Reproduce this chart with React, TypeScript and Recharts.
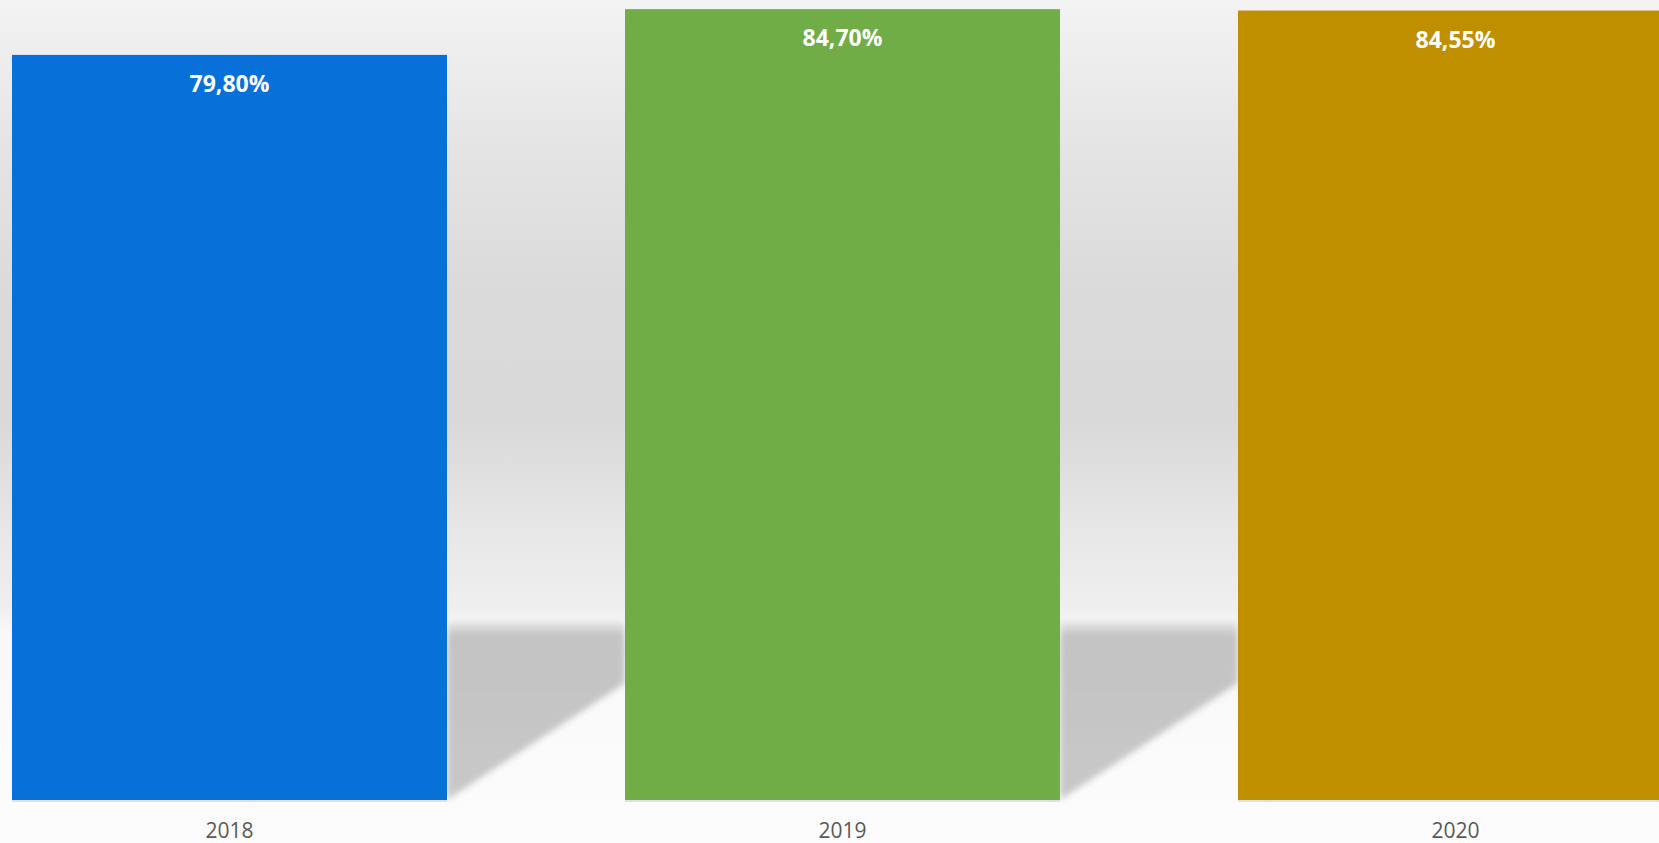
import React from 'react'
import { BarChart, Bar, XAxis, YAxis, LabelList, Cell } from 'recharts'

// data
const YEARS = ['2018', '2019', '2020']
const RATES = [79.8, 84.7, 84.55]
const COLORS = ['#0770D9', '#70AD47', '#BF8F00']

const rows = YEARS.map((year, i) => ({ year, rate: RATES[i] }))

const fmtPct = (v: number) => `${v.toFixed(2).replace('.', ',')}%`

// bar + the floor shadow it casts to the right
function ShadowBar(props: any) {
  const { x, y, width, height, fill, index } = props
  const bottom = y + height
  const x0 = x + width
  const x1 = x0 + width * (178 / 435)
  const top = bottom - 178
  const diag = bottom - 117
  return (
    <g>
      <defs>
        <filter id={`blur-${index}`} x="-10%" y="-10%" width="120%" height="120%">
          <feGaussianBlur stdDeviation="3" />
        </filter>
        <linearGradient id={`shade-${index}`} x1="0" y1="0" x2="0" y2="1">
          <stop offset="0%" stopColor="#e6e6e6" />
          <stop offset="8%" stopColor="#c3c3c3" />
          <stop offset="100%" stopColor="#c8c8c8" />
        </linearGradient>
      </defs>
      <polygon
        points={`${x0},${top} ${x1},${top} ${x1},${diag} ${x0},${bottom}`}
        fill={`url(#shade-${index})`}
        filter={`url(#blur-${index})`}
      />
      {/* faint drop line under the bar */}
      <rect x={x} y={bottom} width={width} height={2} fill="#e0e0e0" />
      <rect x={x} y={y} width={width} height={height} fill={fill} />
    </g>
  )
}

function ValueLabel(props: any) {
  const { x, y, width, value } = props
  return (
    <text
      x={x + width / 2}
      y={y + 37}
      textAnchor="middle"
      fill="#ffffff"
      fontFamily="'Open Sans', sans-serif"
      fontWeight={700}
      fontSize={23}
    >
      {fmtPct(Number(value))}
    </text>
  )
}

function YearTick(props: any) {
  const { x, y, payload } = props
  return (
    <text
      x={x}
      y={y + 38}
      textAnchor="middle"
      fill="#595959"
      fontFamily="'Open Sans', sans-serif"
      fontSize={21}
    >
      {payload.value}
    </text>
  )
}

export default function App() {
  return (
    <div
      style={{
        position: 'fixed',
        left: 0,
        top: 0,
        width: 1659,
        height: 843,
        overflow: 'hidden',
        background:
          'linear-gradient(to bottom, #f3f3f3 0%, #e4e4e4 18%, #dadada 35%, #d9d9d9 50%, #e6e6e6 62%, #efefef 72%, #f8f8f8 75%, #fcfcfc 100%)',
      }}
    >
      <div style={{ position: 'absolute', left: -77, top: 0 }}>
        <BarChart
          width={1839}
          height={843}
          data={rows}
          margin={{ top: 0, right: 0, bottom: 0, left: 0 }}
        >
          <XAxis
            dataKey="year"
            height={43}
            axisLine={false}
            tickLine={false}
            tickSize={0}
            tickMargin={0}
            tick={<YearTick />}
            interval={0}
          />
          <YAxis hide domain={[0, 85.68]} />
          <Bar dataKey="rate" barSize={435} shape={<ShadowBar />} isAnimationActive={false}>
            {rows.map((r, i) => (
              <Cell key={r.year} fill={COLORS[i]} />
            ))}
            <LabelList dataKey="rate" content={<ValueLabel />} />
          </Bar>
        </BarChart>
      </div>
    </div>
  )
}
